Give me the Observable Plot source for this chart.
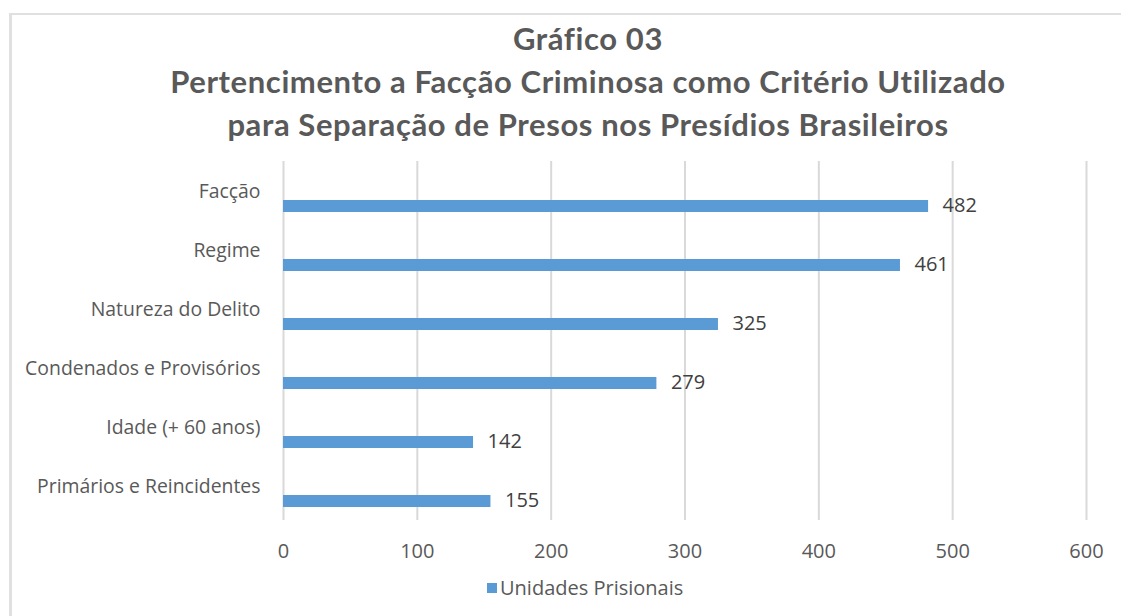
<!DOCTYPE html>
<html>
<head>
<meta charset="utf-8">
<script src="https://cdn.jsdelivr.net/npm/d3@7"></script>
<script src="https://cdn.jsdelivr.net/npm/@observablehq/plot@0.6"></script>
<style>
  html, body { margin: 0; padding: 0; background: #fff; }
  #wrap { position: relative; width: 1121px; height: 616px; overflow: hidden; background: #fff; }
  #frame { position: absolute; left: 9px; top: 13px; width: 1300px; height: 800px;
           border-left: 3px solid #e0e0e0; border-top: 2px solid #e0e0e0; }
  #title { position: absolute; left: 0; top: 17px; width: 1176px; text-align: center;
           font-family: Lato, "Open Sans", sans-serif; font-weight: bold; font-size: 31px;
           letter-spacing: 0.6px; line-height: 43px; color: #595959; }
  #chart { position: absolute; left: 0; top: 0; }
  #legend { position: absolute; left: 487px; top: 574px; display: flex; align-items: center;
            font-family: "Open Sans", sans-serif; font-size: 20px; color: #595959; }
  #legend .sw { width: 10px; height: 10px; background: #5b9bd5; margin-right: 3px; }
</style>
</head>
<body>
<div id="wrap">
  <div id="frame"></div>
  <div id="chart"></div>
  <div id="title"></div>
  <div id="legend"></div>
</div>
<script>
const titleLines = [
  "Gráfico 03",
  "Pertencimento a Facção Criminosa como Critério Utilizado",
  "para Separação de Presos nos Presídios Brasileiros"
];
const categories = [
  "Facção",
  "Regime",
  "Natureza do Delito",
  "Condenados e Provisórios",
  "Idade (+ 60 anos)",
  "Primários e Reincidentes"
];
const values = [482, 461, 325, 279, 142, 155];
const xTicks = [0, 100, 200, 300, 400, 500, 600];
const seriesName = "Unidades Prisionais";
const barColor = "#5b9bd5";

const data = categories.map((c, i) => ({cat: c, value: values[i]}));

document.getElementById("title").innerHTML = titleLines.map(t => `<div>${t}</div>`).join("");
document.getElementById("legend").innerHTML = `<div class="sw"></div><span>${seriesName}</span>`;

const chart = Plot.plot({
  width: 1121,
  height: 616,
  marginLeft: 283,
  marginRight: 35,
  marginTop: 161,
  marginBottom: 96,
  style: {fontFamily: "'Open Sans', sans-serif", fontSize: "19px", color: "#595959", background: "transparent"},
  x: {domain: [0, 600], ticks: xTicks, label: null},
  y: {domain: categories, padding: 0, label: null},
  marks: [
    Plot.gridX(xTicks, {stroke: "#d9d9d9", strokeWidth: 2, strokeOpacity: 1}),
    Plot.barX(data, {x: "value", y: "cat", fill: barColor, insetTop: 36, insetBottom: 11}),
    Plot.text(data, {x: "value", y: "cat", text: d => String(d.value), dx: 14, dy: 12,
      textAnchor: "start", fontSize: 20, fill: "#404040"}),
    Plot.axisX({ticks: xTicks, tickSize: 0, tickPadding: 23, fontSize: 20, label: null, tickFormat: d => String(d)}),
    Plot.axisY({tickSize: 0, tickPadding: 23, fontSize: 19.4, dy: -2, label: null})
  ]
});
document.getElementById("chart").appendChild(chart);
</script>
</body>
</html>
